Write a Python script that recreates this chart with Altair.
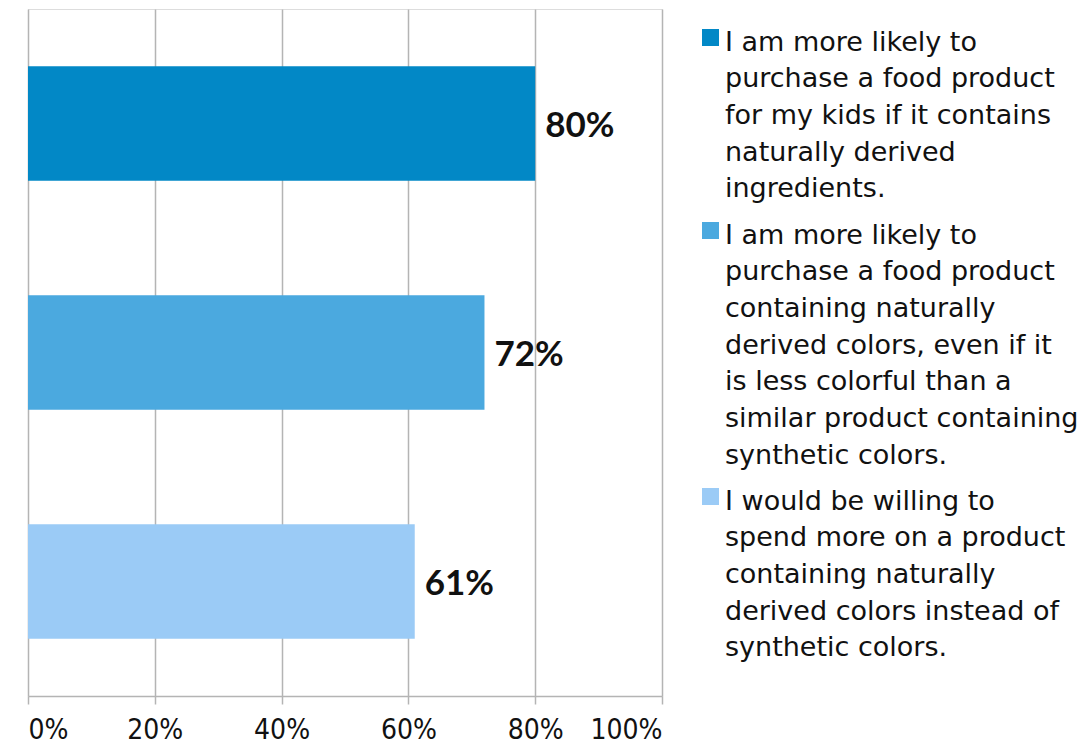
import altair as alt
import pandas as pd

# Survey statements, share agreeing (%), and bar colours
statements = [
    "I am more likely to\npurchase a food product\nfor my kids if it contains\nnaturally derived\ningredients.",
    "I am more likely to\npurchase a food product\ncontaining naturally\nderived colors, even if it\nis less colorful than a\nsimilar product containing\nsynthetic colors.",
    "I would be willing to\nspend more on a product\ncontaining naturally\nderived colors instead of\nsynthetic colors.",
]
shares = [80, 72, 61]
colors = ["#0288c6", "#4ba9df", "#9bcbf6"]
x_ticks = [0, 20, 40, 60, 80, 100]

df = pd.DataFrame({"statement": statements, "share": shares})
df["label"] = df["share"].astype(str) + "%"

grid_gray = "#b4b4b4"

y_enc = alt.Y(
    "statement:N",
    sort=statements,
    axis=None,
    scale=alt.Scale(paddingInner=0.5, paddingOuter=0.25),
)

bars = alt.Chart(df).mark_bar().encode(
    x=alt.X(
        "share:Q",
        scale=alt.Scale(domain=[0, 100], nice=False),
        axis=alt.Axis(
            values=x_ticks,
            labelExpr="datum.value + '%'",
            title=None,
            grid=True,
            gridColor=grid_gray,
            gridWidth=1.5,
            domainColor=grid_gray,
            domainWidth=1.5,
            tickColor=grid_gray,
            tickWidth=1.5,
            tickSize=8,
            labelPadding=20,
            labelFont="DejaVu Sans Condensed, Lato, sans-serif",
            labelFontSize=28,
            labelColor="#111111",
            labelBaseline="top",
        ),
    ),
    y=y_enc,
    color=alt.Color(
        "statement:N",
        scale=alt.Scale(domain=statements, range=colors),
        legend=alt.Legend(
            title=None,
            orient="none",
            legendX=669,
            legendY=15,
            symbolType="square",
            symbolSize=289,
            symbolStrokeWidth=0,
            labelExpr="split(datum.label, '\\n')",
            labelFont="DejaVu Sans",
            labelFontSize=27,
            labelLimit=500,
            labelOffset=1,
            labelColor="#111111",
            labelBaseline="top",
            rowPadding=14,
        ),
    ),
)

labels = alt.Chart(df).mark_text(
    align="left",
    baseline="middle",
    dx=10,
    dy=2,
    font="Lato",
    fontWeight="bold",
    fontSize=35,
    color="#111111",
).encode(
    x="share:Q",
    y=y_enc,
    text="label:N",
)

chart = (
    alt.layer(bars, labels)
    .properties(
        width=634,
        height=687,
        autosize=alt.AutoSizeParams(type="none"),
        padding={"left": 28, "top": 9, "right": 425, "bottom": 50},
    )
    .configure_view(stroke=None)
    .configure(
        background="white",
        style={"guide-label": {"lineHeight": 36.7, "dy": -8}},
    )
)

chart.save("out.html", embed_options={"renderer": "svg", "actions": False})
